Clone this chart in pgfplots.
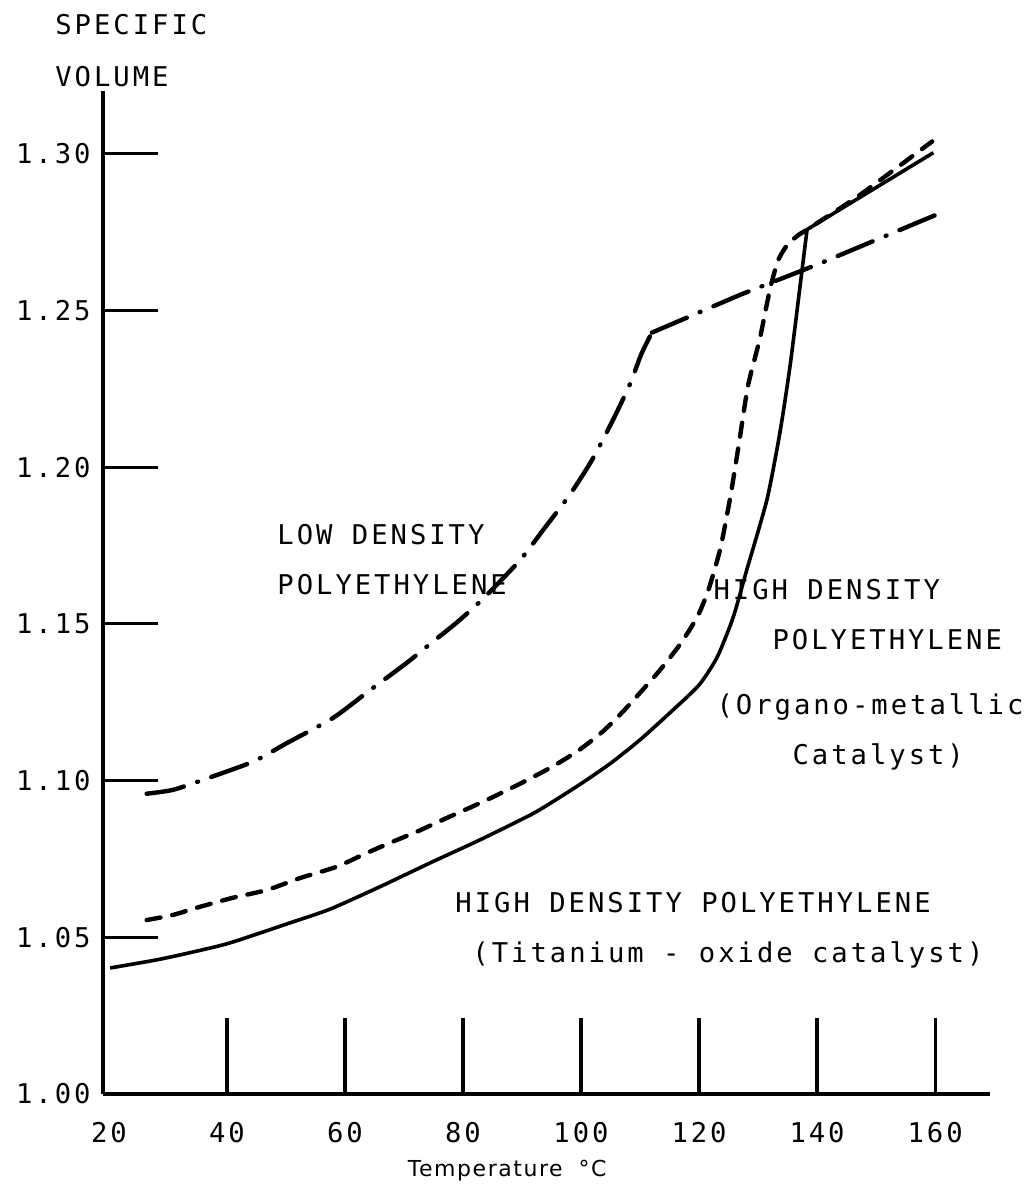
\documentclass[border=0pt]{standalone}
\usepackage{fontspec}
\setmainfont{DejaVu Sans Mono}[LetterSpace=11]
\newfontfamily\handfont{DejaVu Sans}[LetterSpace=7]
\usepackage{pgfplots}
\pgfplotsset{compat=1.18}

\newcommand\lbl{\fontsize{13.6}{15}\selectfont}

% Specific volume against temperature for three polyethylenes
\pgfplotstableread{
T V
26.4 1.0958
30.8 1.0970
35.9 1.1002
44.4 1.1060
50.2 1.1120
58.0 1.1200
64.0 1.1285
70.5 1.1376
74.7 1.1440
79.0 1.1505
83.4 1.1580
89.7 1.1704
93.6 1.1800
98.1 1.1912
101.9 1.2024
105.4 1.2150
108.3 1.2265
110.2 1.2360
112.0 1.2429
}\lowdensityA

\pgfplotstableread{
T V
112.0 1.2429
127.0 1.2550
140.0 1.2646
160.8 1.2810
}\lowdensityB

\pgfplotstableread{
T V
26.4 1.0555
30.8 1.0571
35.4 1.0597
41.0 1.0626
46.8 1.0651
52.4 1.0689
58.6 1.0725
63.0 1.0763
67.6 1.0801
72.2 1.0837
77.3 1.0881
81.7 1.0918
85.8 1.0954
90.2 1.0995
95.1 1.1044
99.5 1.1095
103.6 1.1155
107.0 1.1218
110.0 1.1280
113.4 1.1353
116.8 1.1435
119.7 1.1522
121.6 1.1609
123.6 1.1740
125.3 1.1905
126.8 1.2080
128.3 1.2260
130.3 1.2410
132.0 1.2566
133.4 1.2660
135.0 1.2710
136.8 1.2740
138.3 1.2758
147.0 1.2865
159.5 1.3039
}\organometallic

\pgfplotstableread{
T V
20.2 1.0402
28.1 1.0428
34.0 1.0452
40.5 1.0482
50.7 1.0546
57.5 1.0590
65.9 1.0661
74.4 1.0737
82.9 1.0811
91.4 1.0890
95.0 1.0930
100.0 1.0990
105.0 1.1055
110.0 1.1130
115.0 1.1215
120.0 1.1305
123.1 1.1395
125.8 1.1522
128.1 1.1673
131.5 1.1896
133.7 1.2110
135.4 1.2320
137.0 1.2560
138.3 1.2758
}\titaniumA

\pgfplotstableread{
T V
138.3 1.2758
159.7 1.3003
}\titaniumB

\begin{document}
\begin{tikzpicture}
\useasboundingbox (-51.5pt,-46pt) rectangle (462pt,547pt);
\begin{axis}[
  at={(0,0)}, anchor=south west,
  scale only axis, width=443.5pt, height=501.5pt,
  xmin=19, xmax=169.3, ymin=1.00, ymax=1.32,
  axis x line=bottom, axis y line=left,
  axis line style={-, line width=2pt},
  clip=false,
  tick align=inside,
  major tick length=38pt,
  tick style={line width=1.6pt, black},
  xtick={40,60,...,160},
  xticklabels={40,60,80,100,120,140,160},
  extra x ticks={20}, extra x tick labels={20},
  extra x tick style={major tick length=0pt},
  ytick={1.00}, yticklabels={1.00},
  extra y ticks={1.05,1.10,1.15,1.20,1.25,1.30},
  extra y tick labels={1.05,1.10,1.15,1.20,1.25,1.30},
  extra y tick style={major tick length=27.5pt},
  ticklabel style={font=\lbl},
  xticklabel style={anchor=north, inner sep=0pt, yshift=-14pt},
  yticklabel style={anchor=east, inner sep=0pt, xshift=-6pt},
]
% low density polyethylene
\addplot[line width=2.2pt, line cap=round, line join=round, smooth, tension=0.4,
  dash pattern=on 19pt off 7pt on 0.5pt off 7pt] table[x=T, y=V] {\lowdensityA};
\addplot[line width=2.2pt, line cap=round, line join=round,
  dash pattern=on 19pt off 7pt on 0.5pt off 7pt] table[x=T, y=V] {\lowdensityB};
% high density, organo-metallic catalyst
\addplot[line width=2.2pt, line cap=round, line join=round, smooth, tension=0.4,
  dash pattern=on 7pt off 6pt] table[x=T, y=V] {\organometallic};
% high density, titanium-oxide catalyst
\addplot[line width=1.8pt, line join=round, smooth, tension=0.4]
  table[x=T, y=V] {\titaniumA};
\addplot[line width=1.8pt, line join=round] table[x=T, y=V] {\titaniumB};

\begin{scope}[every node/.style={anchor=base west, inner sep=0pt, font=\lbl}]
\node at (axis cs:10.86,1.3380) {SPECIFIC};
\node at (axis cs:10.86,1.3214) {VOLUME};
\node at (axis cs:48.49,1.1752) {LOW DENSITY};
\node at (axis cs:48.49,1.1593) {POLYETHYLENE};
\node at (axis cs:122.39,1.1577) {HIGH DENSITY};
\node at (axis cs:132.39,1.1417) {POLYETHYLENE};
\node at (axis cs:122.9,1.1210) {(Organo-metallic};
\node at (axis cs:135.78,1.1050) {Catalyst)};
\node at (axis cs:78.66,1.0578) {HIGH DENSITY POLYETHYLENE};
\node at (axis cs:81.54,1.0421) {(Titanium - oxide catalyst)};
\end{scope}
\node[inner sep=0pt, font=\handfont\fontsize{11}{13}\selectfont]
  at (axis cs:87.5,0.9757) {Temperature\hspace{8pt}°C};
\end{axis}
\end{tikzpicture}
\end{document}
